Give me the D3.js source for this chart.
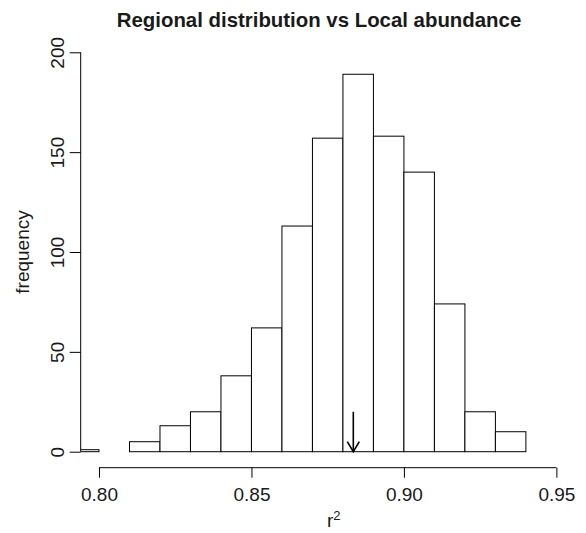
<!DOCTYPE html>
<html>
<head>
<meta charset="utf-8">
<script src="https://cdn.jsdelivr.net/npm/d3@7"></script>
<style>
  html, body { margin: 0; padding: 0; background: #fff; }
  svg { display: block; }
  text { font-family: "Liberation Sans", Arial, Helvetica, sans-serif; fill: #1a1a1a; }
</style>
</head>
<body>
<svg id="chart" width="586" height="533"></svg>
<script>
// ---- data ----
const binStarts = [0.79, 0.80, 0.81, 0.82, 0.83, 0.84, 0.85, 0.86, 0.87, 0.88, 0.89, 0.90, 0.91, 0.92, 0.93];
const binWidth = 0.01;
const counts = [1, 0, 5, 13, 20, 38, 62, 113, 157, 189, 158, 140, 74, 20, 10];
const xTicks = [0.80, 0.85, 0.90, 0.95];
const yTicks = [0, 50, 100, 150, 200];
const observed = [0.8834];   // arrow position (observed r^2)
const arrowFrom = [20];      // arrow start height (frequency units)
const title = "Regional distribution vs Local abundance";
const yLabel = "frequency";

// ---- layout ----
const plotLeft = 80.7, plotRight = 557, plotTop = 40, plotBottom = 470;
const svg = d3.select("#chart");

const x = d3.scaleLinear().domain([0.794, 0.9502]).range([plotLeft, plotRight]);
const y = d3.scaleLinear().domain([0, 200]).range([451.7, 52.3]);

svg.append("defs").append("clipPath").attr("id", "plotclip")
  .append("rect").attr("x", plotLeft).attr("y", plotTop)
  .attr("width", plotRight - plotLeft).attr("height", plotBottom - plotTop);

// bars
const bars = binStarts.map((s, i) => ({ x0: s, x1: s + binWidth, n: counts[i] }));
svg.append("g").attr("clip-path", "url(#plotclip)")
  .selectAll("rect").data(bars).enter().append("rect")
  .attr("x", d => x(d.x0))
  .attr("y", d => y(d.n))
  .attr("width", d => x(d.x1) - x(d.x0))
  .attr("height", d => y(0) - y(d.n))
  .attr("fill", "#fff")
  .attr("stroke", "#000")
  .attr("stroke-width", 1);

// y axis
const yAxisG = svg.append("g").attr("transform", `translate(${plotLeft},0)`)
  .call(d3.axisLeft(y).tickValues(yTicks).tickSize(11).tickSizeOuter(0).tickFormat(d3.format("d")));
yAxisG.select(".domain").remove();
yAxisG.append("line")
  .attr("x1", 0).attr("x2", 0).attr("y1", y(yTicks[0])).attr("y2", y(yTicks[yTicks.length - 1]))
  .attr("stroke", "#000");
yAxisG.selectAll(".tick line").attr("stroke", "#000");
yAxisG.selectAll(".tick text")
  .attr("x", null).attr("dy", null)
  .attr("transform", "translate(-17,0) rotate(-90)")
  .attr("text-anchor", "middle")
  .style("font-size", "19px")
  .style("font-family", "'Liberation Sans', Arial, sans-serif")
  .attr("fill", "#1a1a1a");

// x axis
const xAxisG = svg.append("g").attr("transform", `translate(0,467.7)`)
  .call(d3.axisBottom(x).tickValues(xTicks).tickSize(10).tickSizeOuter(0).tickFormat(d3.format(".2f")));
xAxisG.select(".domain").remove();
xAxisG.append("line")
  .attr("x1", x(xTicks[0])).attr("x2", x(xTicks[xTicks.length - 1]))
  .attr("y1", 0).attr("y2", 0).attr("stroke", "#000");
xAxisG.selectAll(".tick line").attr("stroke", "#000");
xAxisG.selectAll(".tick text")
  .attr("y", 33).attr("dy", null)
  .attr("text-anchor", "middle")
  .style("font-size", "19px")
  .style("font-family", "'Liberation Sans', Arial, sans-serif")
  .attr("fill", "#1a1a1a");

// arrow
const ax = x(observed[0]);
const ay0 = y(arrowFrom[0]), ay1 = y(0);
const ag = svg.append("g").attr("stroke", "#000").attr("stroke-width", 1.6).attr("fill", "none");
ag.append("line").attr("x1", ax).attr("x2", ax).attr("y1", ay0).attr("y2", ay1);
ag.append("path").attr("d", `M${ax - 6},${ay1 - 10} L${ax},${ay1} L${ax + 6},${ay1 - 10}`);

// title
svg.append("text")
  .attr("x", 319).attr("y", 26.5)
  .attr("text-anchor", "middle")
  .style("font-size", "20.4px").style("font-weight", "bold")
  .text(title);

// y label
svg.append("text")
  .attr("transform", `translate(29,${(y(0) + y(200)) / 2}) rotate(-90)`)
  .attr("text-anchor", "middle")
  .style("font-size", "19px")
  .text(yLabel);

// x label r^2
const xl = svg.append("text")
  .attr("x", 327).attr("y", 527)
  .style("font-size", "19px");
xl.append("tspan").text("r");
xl.append("tspan").attr("dy", -7).style("font-size", "13px").text("2");
</script>
</body>
</html>
